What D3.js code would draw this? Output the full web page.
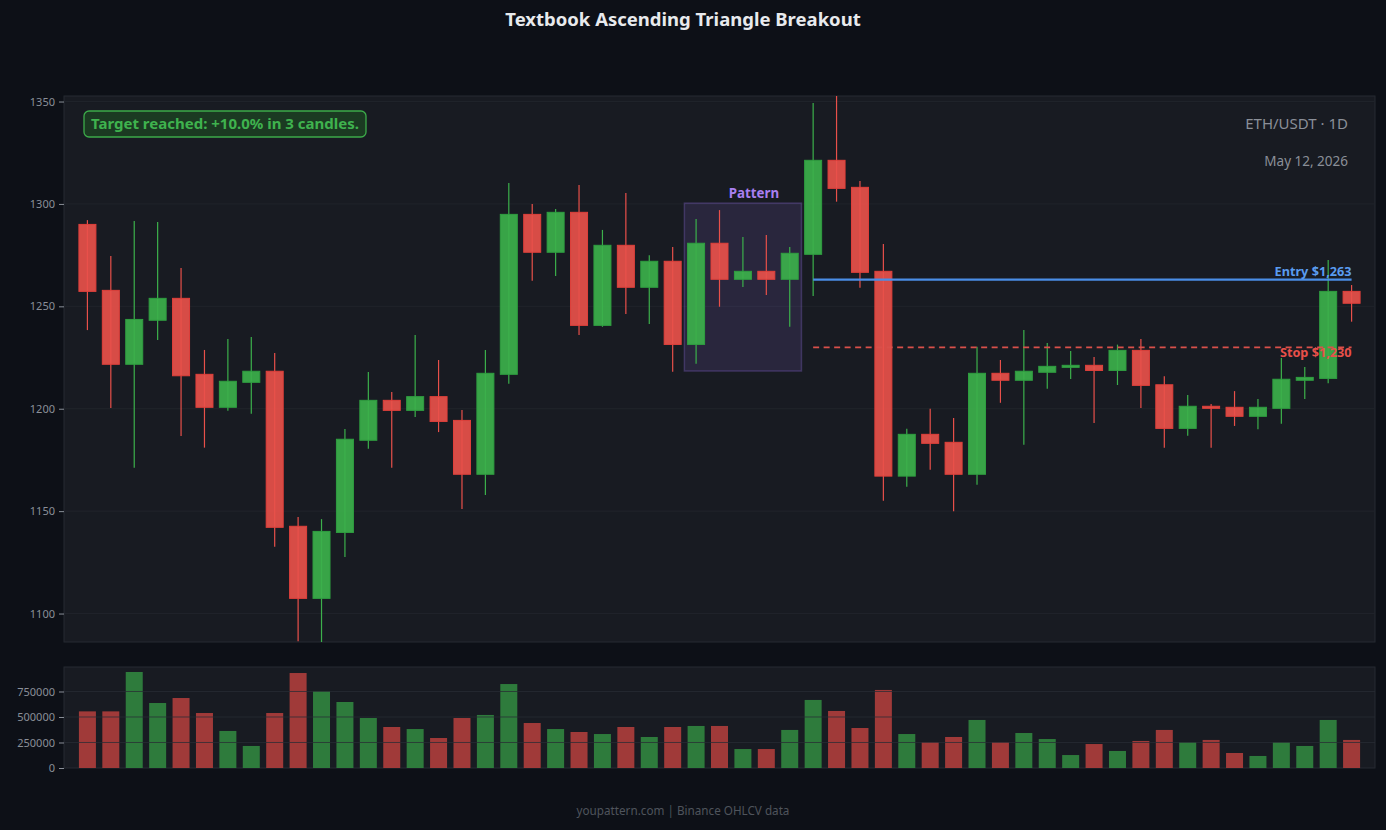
<!DOCTYPE html>
<html>
<head>
<meta charset="utf-8">
<script src="https://cdn.jsdelivr.net/npm/d3@7"></script>
<style>
  body { margin: 0; background: #0d1017; }
  svg { display: block; font-family: "Noto Sans", "Open Sans", sans-serif; }
</style>
</head>
<body>
<div class="wrapper"></div>
<script>
// candle data
const opens  = [1290, 1257.8, 1221.7, 1243.2, 1253.9, 1216.8, 1200.7, 1212.9, 1218.3, 1142.6,
                1107.4, 1139.6, 1184.6, 1204.1, 1199.2, 1205.9, 1194.3, 1168, 1216.8, 1294.9,
                1276.4, 1295.9, 1240.7, 1279.8, 1259.3, 1272, 1231.4, 1280.8, 1263.2, 1267.1,
                1263.2, 1275.4, 1321.3, 1308.1, 1267.1, 1167.1, 1187.5, 1183.6, 1168, 1217.3,
                1213.9, 1217.8, 1220.2, 1221.2, 1218.7, 1228.5, 1211.7, 1190.4, 1201.2, 1200.7,
                1196.3, 1200.2, 1213.9, 1214.8, 1257.3];
const highs  = [1292.1, 1274.6, 1291.7, 1291.2, 1268.7, 1228.7, 1234, 1235, 1227.2, 1147.1,
                1146.1, 1190.1, 1217.9, 1208.2, 1236, 1223.8, 1199.4, 1228.7, 1310.2, 1300,
                1297.5, 1309.2, 1287.3, 1305.3, 1275, 1279, 1292.6, 1297, 1283.8, 1284.8,
                1279, 1349.3, 1353, 1311.2, 1280.4, 1190.2, 1200, 1195.5, 1230.3, 1223.8,
                1238.4, 1232.1, 1228.2, 1225.2, 1231.3, 1234, 1215.8, 1206.7, 1202.3, 1208.6,
                1204.7, 1224.8, 1220.4, 1272.6, 1260.4];
const lows   = [1238.4, 1200.3, 1171.2, 1233.5, 1186.7, 1181, 1199, 1197.6, 1132.6, 1086.5,
                1086, 1127.6, 1180.5, 1171.2, 1196, 1188.6, 1151, 1157.9, 1212.2, 1262.5,
                1264.8, 1236, 1240, 1246.2, 1241.4, 1218.1, 1222, 1249.8, 1259.4, 1255.5,
                1240, 1255, 1301.1, 1259.1, 1155.1, 1161.9, 1170.2, 1150, 1162.9, 1202.9,
                1182.4, 1209.8, 1214.5, 1193, 1211.6, 1200.3, 1181, 1186.8, 1181, 1191.6,
                1190, 1192.7, 1204.7, 1212.5, 1242.5];
const closes = [1257.3, 1221.7, 1243.6, 1253.9, 1216.1, 1200.7, 1213.4, 1218.3, 1142.1, 1107.4,
                1140.1, 1185.1, 1204.1, 1199.2, 1205.9, 1193.8, 1168, 1217.3, 1294.9, 1276.4,
                1295.9, 1240.7, 1279.8, 1259.3, 1272, 1231.4, 1280.8, 1263.2, 1267.1, 1263.2,
                1275.9, 1321.3, 1307.6, 1266.6, 1167.1, 1187.5, 1183.1, 1168, 1217.3, 1213.9,
                1218.3, 1220.7, 1221.2, 1218.7, 1228.5, 1211.4, 1190.4, 1201.2, 1200.2, 1196.3,
                1200.7, 1214.4, 1215.3, 1257.3, 1251.5];
const volumes = [555000, 555000, 941000, 637000, 686000, 539000, 363000, 216000, 539000, 931000,
                 755000, 647000, 490000, 402000, 382000, 294000, 490000, 520000, 823000, 441000,
                 382000, 353000, 333000, 402000, 304000, 402000, 412000, 412000, 186000, 186000,
                 373000, 667000, 559000, 392000, 765000, 333000, 255000, 304000, 471000, 255000,
                 343000, 284000, 127000, 235000, 167000, 265000, 373000, 255000, 275000, 147000,
                 118000, 255000, 216000, 471000, 275000];

const priceTicks = [1100, 1150, 1200, 1250, 1300, 1350];
const volumeTicks = [0, 250000, 500000, 750000];

const patternStart = 26, patternEnd = 30, patternLow = 1218.4, patternHigh = 1300.4;
const entryPrice = 1263, stopPrice = 1230, breakoutIndex = 31;

const chartTitle = "Textbook Ascending Triangle Breakout";
const symbolLabel = "ETH/USDT \u00b7 1D";
const dateLabel = "May 12, 2026";
const targetNote = "Target reached: +10.0% in 3 candles.";
const footerNote = "youpattern.com | Binance OHLCV data";

const candles = opens.map((o, i) => ({ i: i, o: o, h: highs[i], l: lows[i], c: closes[i], v: volumes[i] }));

const width = 1386, height = 830;
const left = 64, right = 1375;
const mainTop = 96, mainBottom = 642;
const volTop = 667, volBottom = 768;
const midX = 683;

const GREEN = "#3cb04b", RED = "#e8504a";

svg = d3.select(".wrapper").append("svg").attr("width", width).attr("height", height);

svg.append("rect").attr("width", width).attr("height", height).attr("fill", "#0d1017");

svg.append("text")
  .attr("x", midX)
  .attr("y", 26)
  .attr("text-anchor", "middle")
  .attr("fill", "#e8eaed")
  .style("font-size", "18.5px")
  .style("font-weight", "bold")
  .text(chartTitle);

x = d3.scaleLinear().domain([-1, candles.length]).range([left, right]);
y = d3.scaleLinear().domain([1086.1, 1352.7]).range([mainBottom, mainTop]);
yv = d3.scaleLinear().domain([0, 990000]).range([volBottom, volTop]);

const bodyW = 17;

//////////////////////////
////// PRICE PANEL ///////
//////////////////////////

svg.append("rect")
  .attr("x", left).attr("y", mainTop)
  .attr("width", right - left).attr("height", mainBottom - mainTop)
  .attr("fill", "#181b22").attr("stroke", "#262a32");

svg.append("g")
  .selectAll("line")
  .data(priceTicks)
  .enter()
  .append("line")
  .attr("x1", left).attr("x2", right)
  .attr("y1", (d) => y(d)).attr("y2", (d) => y(d))
  .attr("stroke", "#20242b");

yAxis = svg.append("g")
  .attr("transform", "translate(" + left + ",0)")
  .call(d3.axisLeft(y).tickValues(priceTicks).tickFormat(d3.format("d")).tickSize(5).tickPadding(4));
yAxis.select(".domain").remove();
yAxis.selectAll("line").attr("stroke", "#8a8f98");
yAxis.selectAll("text").attr("fill", "#8a8f98").style("font-size", "11px").style("font-family", "Noto Sans");

// pattern box
svg.append("rect")
  .attr("x", x(patternStart - 0.5))
  .attr("y", y(patternHigh))
  .attr("width", x(patternEnd + 0.5) - x(patternStart - 0.5))
  .attr("height", y(patternLow) - y(patternHigh))
  .attr("fill", "rgba(140,105,220,0.15)")
  .attr("stroke", "rgba(140,105,220,0.3)")
  .attr("stroke-width", 1.5);

svg.append("text")
  .attr("x", x((patternStart + patternEnd) / 2) + 11)
  .attr("y", y(patternHigh) - 5)
  .attr("text-anchor", "middle")
  .attr("fill", "#a97ff0")
  .style("font-size", "13.3px")
  .style("font-weight", "bold")
  .text("Pattern");

main = svg.append("g")
  .attr("clip-path", "url(#clipMain)");
svg.append("clipPath").attr("id", "clipMain")
  .append("rect")
  .attr("x", left).attr("y", mainTop)
  .attr("width", right - left).attr("height", mainBottom - mainTop);

groups = main.selectAll("g.candle")
  .data(candles)
  .enter()
  .append("g")
  .attr("class", "candle");

groups.append("line")
  .attr("x1", (d) => x(d.i)).attr("x2", (d) => x(d.i))
  .attr("y1", (d) => y(d.h)).attr("y2", (d) => y(d.l))
  .attr("stroke", (d) => (d.c >= d.o ? GREEN : RED))
  .attr("stroke-width", 1.2);

groups.append("rect")
  .attr("x", (d) => x(d.i) - bodyW / 2)
  .attr("y", (d) => y(Math.max(d.o, d.c)))
  .attr("width", bodyW)
  .attr("height", (d) => Math.max(1, Math.abs(y(d.o) - y(d.c))))
  .attr("fill", (d) => (d.c >= d.o ? GREEN : RED))
  .attr("fill-opacity", 0.92)
  .attr("stroke", (d) => (d.c >= d.o ? "#2f9e40" : "#e0403b"))
  .attr("stroke-width", 1);

// entry + stop
svg.append("line")
  .attr("x1", x(breakoutIndex)).attr("x2", x(candles.length - 1))
  .attr("y1", y(entryPrice)).attr("y2", y(entryPrice))
  .attr("stroke", "#4a8ee6")
  .attr("stroke-width", 2.2);

svg.append("text")
  .attr("x", x(candles.length - 1))
  .attr("y", y(entryPrice) - 4)
  .attr("text-anchor", "end")
  .attr("fill", "#5a9cf0")
  .style("font-size", "12.7px")
  .style("font-weight", "bold")
  .text("Entry $" + d3.format(",")(entryPrice));

svg.append("line")
  .attr("x1", x(breakoutIndex)).attr("x2", x(candles.length - 1))
  .attr("y1", y(stopPrice)).attr("y2", y(stopPrice))
  .attr("stroke", "#d9504a")
  .attr("stroke-width", 1.8)
  .attr("stroke-dasharray", "6,4.5");

svg.append("text")
  .attr("x", x(candles.length - 1))
  .attr("y", y(stopPrice) + 10)
  .attr("text-anchor", "end")
  .attr("fill", "#e8504a")
  .style("font-size", "12.7px")
  .style("font-weight", "bold")
  .text("Stop $" + d3.format(",")(stopPrice));

// annotations
svg.append("rect")
  .attr("x", 84).attr("y", 111)
  .attr("width", 282).attr("height", 26)
  .attr("rx", 5)
  .attr("fill", "#1b3a22")
  .attr("stroke", "#3cab4a")
  .attr("stroke-width", 1.3);

svg.append("text")
  .attr("x", 225).attr("y", 129)
  .attr("text-anchor", "middle")
  .attr("fill", "#3fb24e")
  .style("font-size", "15px")
  .style("font-weight", "bold")
  .text(targetNote);

svg.append("text")
  .attr("x", 1348).attr("y", 129)
  .attr("text-anchor", "end")
  .attr("fill", "#8a8f98")
  .style("font-size", "15px")
  .text(symbolLabel);

svg.append("text")
  .attr("x", 1348).attr("y", 166)
  .attr("text-anchor", "end")
  .attr("fill", "#8a8f98")
  .style("font-size", "13.5px")
  .text(dateLabel);

//////////////////////////
///// VOLUME PANEL ///////
//////////////////////////

svg.append("rect")
  .attr("x", left).attr("y", volTop)
  .attr("width", right - left).attr("height", volBottom - volTop)
  .attr("fill", "#181b22").attr("stroke", "#262a32");

svg.append("g")
  .selectAll("rect")
  .data(candles)
  .enter()
  .append("rect")
  .attr("x", (d) => x(d.i) - bodyW / 2)
  .attr("y", (d) => yv(d.v))
  .attr("width", bodyW)
  .attr("height", (d) => yv(0) - yv(d.v))
  .attr("fill", (d) => (d.c >= d.o ? "#2e7b3c" : "#a03a39"));

svg.append("g")
  .selectAll("line")
  .data(volumeTicks.slice(1))
  .enter()
  .append("line")
  .attr("x1", left).attr("x2", right)
  .attr("y1", (d) => yv(d)).attr("y2", (d) => yv(d))
  .attr("stroke", "rgba(40,44,52,0.75)");

vAxis = svg.append("g")
  .attr("transform", "translate(" + left + ",0)")
  .call(d3.axisLeft(yv).tickValues(volumeTicks).tickFormat(d3.format("d")).tickSize(5).tickPadding(4));
vAxis.select(".domain").remove();
vAxis.selectAll("line").attr("stroke", "#8a8f98");
vAxis.selectAll("text").attr("fill", "#8a8f98").style("font-size", "11px").style("font-family", "Noto Sans");

svg.append("text")
  .attr("x", midX)
  .attr("y", 815)
  .attr("text-anchor", "middle")
  .attr("fill", "#4f545c")
  .style("font-size", "11.7px")
  .text(footerNote);
</script>
</body>
</html>
